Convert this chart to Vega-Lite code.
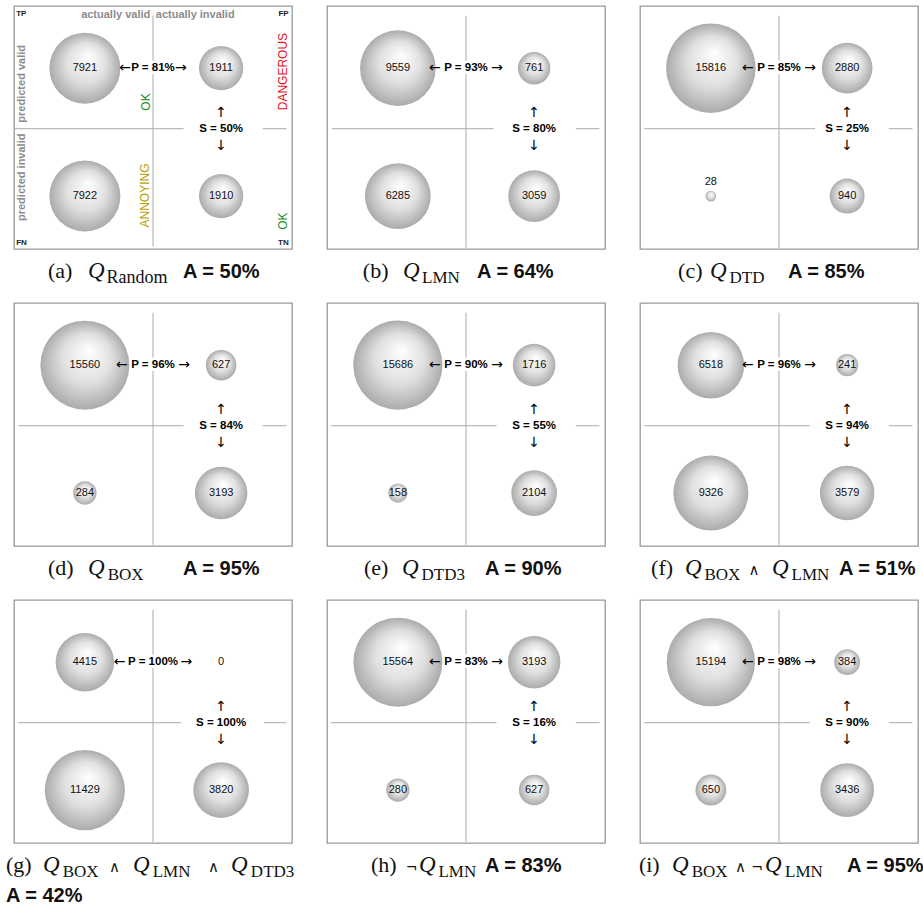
{
"$schema":"https://vega.github.io/schema/vega-lite/v6.json",
"background":"white",
"padding":{"left":5,"top":5,"right":0,"bottom":0},
"autosize":{"type":"pad"},
"columns":3,
"spacing":{"row":54,"column":35},
"bounds":"flush",
"datasets":{
"cells":[
{"panel":"a","actual":"valid","predicted":"valid","count":7921},{"panel":"a","actual":"invalid","predicted":"valid","count":1911},{"panel":"a","actual":"valid","predicted":"invalid","count":7922},{"panel":"a","actual":"invalid","predicted":"invalid","count":1910},
{"panel":"b","actual":"valid","predicted":"valid","count":9559},{"panel":"b","actual":"invalid","predicted":"valid","count":761},{"panel":"b","actual":"valid","predicted":"invalid","count":6285},{"panel":"b","actual":"invalid","predicted":"invalid","count":3059},
{"panel":"c","actual":"valid","predicted":"valid","count":15816},{"panel":"c","actual":"invalid","predicted":"valid","count":2880},{"panel":"c","actual":"valid","predicted":"invalid","count":28},{"panel":"c","actual":"invalid","predicted":"invalid","count":940},
{"panel":"d","actual":"valid","predicted":"valid","count":15560},{"panel":"d","actual":"invalid","predicted":"valid","count":627},{"panel":"d","actual":"valid","predicted":"invalid","count":284},{"panel":"d","actual":"invalid","predicted":"invalid","count":3193},
{"panel":"e","actual":"valid","predicted":"valid","count":15686},{"panel":"e","actual":"invalid","predicted":"valid","count":1716},{"panel":"e","actual":"valid","predicted":"invalid","count":158},{"panel":"e","actual":"invalid","predicted":"invalid","count":2104},
{"panel":"f","actual":"valid","predicted":"valid","count":6518},{"panel":"f","actual":"invalid","predicted":"valid","count":241},{"panel":"f","actual":"valid","predicted":"invalid","count":9326},{"panel":"f","actual":"invalid","predicted":"invalid","count":3579},
{"panel":"g","actual":"valid","predicted":"valid","count":4415},{"panel":"g","actual":"invalid","predicted":"valid","count":0},{"panel":"g","actual":"valid","predicted":"invalid","count":11429},{"panel":"g","actual":"invalid","predicted":"invalid","count":3820},
{"panel":"h","actual":"valid","predicted":"valid","count":15564},{"panel":"h","actual":"invalid","predicted":"valid","count":3193},{"panel":"h","actual":"valid","predicted":"invalid","count":280},{"panel":"h","actual":"invalid","predicted":"invalid","count":627},
{"panel":"i","actual":"valid","predicted":"valid","count":15194},{"panel":"i","actual":"invalid","predicted":"valid","count":384},{"panel":"i","actual":"valid","predicted":"invalid","count":650},{"panel":"i","actual":"invalid","predicted":"invalid","count":3436}
],
"panels":[
{"panel":"a","tag":"(a)","P":"P = 81%","S":"S = 50%","A":"A = 50%"},
{"panel":"b","tag":"(b)","P":"P = 93%","S":"S = 80%","A":"A = 64%"},
{"panel":"c","tag":"(c)","P":"P = 85%","S":"S = 25%","A":"A = 85%"},
{"panel":"d","tag":"(d)","P":"P = 96%","S":"S = 84%","A":"A = 95%"},
{"panel":"e","tag":"(e)","P":"P = 90%","S":"S = 55%","A":"A = 90%"},
{"panel":"f","tag":"(f)","P":"P = 96%","S":"S = 94%","A":"A = 51%"},
{"panel":"g","tag":"(g)","P":"P = 100%","S":"S = 100%","A":"A = 42%"},
{"panel":"h","tag":"(h)","P":"P = 83%","S":"S = 16%","A":"A = 83%"},
{"panel":"i","tag":"(i)","P":"P = 98%","S":"S = 90%","A":"A = 95%"}
]
},
"concat":[
{"width":278,"height":243,"resolve":{"scale":{"x":"independent","y":"independent"}},"layer":[
{"data":{"name":"cells"},"transform":[{"filter":"datum.panel==='a'"}],
"encoding":{"x":{"field":"actual","type":"nominal","scale":{"type":"point","domain":["valid","invalid"],"padding":0.52},"axis":null},"y":{"field":"predicted","type":"nominal","scale":{"type":"point","domain":["valid","invalid"],"padding":0.45,"align":0.54},"axis":null}},
"layer":[
{"mark":{"type":"circle","opacity":1,"fill":{"gradient":"radial","x1":0.55,"y1":0.33,"r1":0,"x2":0.5,"y2":0.5,"r2":0.5,"stops":[{"offset":0,"color":"#ffffff"},{"offset":0.55,"color":"#e0e0e0"},{"offset":1,"color":"#ababab"}]}},"encoding":{"size":{"field":"count","type":"quantitative","scale":{"type":"pow","exponent":0.6667,"domain":[0,15816],"range":[0,8000]},"legend":null}}},
{"mark":{"type":"text","style":"num","color":"#111111"},"encoding":{"text":{"field":"count","type":"nominal"}}}
]},
{"data":{"name":"panels"},"transform":[{"filter":"datum.panel==='a'"}],"layer":[
{"mark":{"type":"rule","color":"#aaaaaa","strokeWidth":1},"encoding":{"x":{"datum":0.5,"type":"quantitative","scale":{"domain":[0,1]}},"y":{"datum":0.04,"type":"quantitative","scale":{"domain":[0,1],"reverse":true}},"y2":{"datum":0.225}}},
{"mark":{"type":"rule","color":"#aaaaaa","strokeWidth":1},"encoding":{"x":{"datum":0.5,"type":"quantitative","scale":{"domain":[0,1]}},"y":{"datum":0.28,"type":"quantitative","scale":{"domain":[0,1],"reverse":true}},"y2":{"datum":0.99}}},
{"mark":{"type":"rule","color":"#aaaaaa","strokeWidth":1},"encoding":{"x":{"datum":0.0,"type":"quantitative","scale":{"domain":[0,1]}},"x2":{"datum":0.61},"y":{"datum":0.505,"type":"quantitative","scale":{"domain":[0,1],"reverse":true}}}},
{"mark":{"type":"rule","color":"#aaaaaa","strokeWidth":1},"encoding":{"x":{"datum":0.895,"type":"quantitative","scale":{"domain":[0,1]}},"x2":{"datum":0.98},"y":{"datum":0.505,"type":"quantitative","scale":{"domain":[0,1],"reverse":true}}}},
{"mark":{"type":"text","style":"pl","color":"#000000"},"encoding":{"text":{"field":"P"},"x":{"datum":0.5,"type":"quantitative","scale":{"domain":[0,1]}},"y":{"datum":0.255,"type":"quantitative","scale":{"domain":[0,1],"reverse":true}}}},
{"mark":{"type":"text","style":"arr","color":"#000000","text":"←"},"encoding":{"x":{"datum":0.4,"type":"quantitative","scale":{"domain":[0,1]}},"y":{"datum":0.255,"type":"quantitative","scale":{"domain":[0,1],"reverse":true}}}},
{"mark":{"type":"text","style":"arr","color":"#000000","text":"→"},"encoding":{"x":{"datum":0.6,"type":"quantitative","scale":{"domain":[0,1]}},"y":{"datum":0.255,"type":"quantitative","scale":{"domain":[0,1],"reverse":true}}}},
{"mark":{"type":"text","style":"pl","color":"#000000"},"encoding":{"text":{"field":"S"},"x":{"datum":0.745,"type":"quantitative","scale":{"domain":[0,1]}},"y":{"datum":0.505,"type":"quantitative","scale":{"domain":[0,1],"reverse":true}}}},
{"mark":{"type":"text","style":"arr","color":"#000000","text":"↑"},"encoding":{"x":{"datum":0.745,"type":"quantitative","scale":{"domain":[0,1]}},"y":{"datum":0.44,"type":"quantitative","scale":{"domain":[0,1],"reverse":true}}}},
{"mark":{"type":"text","style":"arr","color":"#000000","text":"↓"},"encoding":{"x":{"datum":0.745,"type":"quantitative","scale":{"domain":[0,1]}},"y":{"datum":0.575,"type":"quantitative","scale":{"domain":[0,1],"reverse":true}}}},
{"mark":{"type":"text","style":"corner","color":"#222222","text":"TP","align":"left"},"encoding":{"x":{"datum":0.008,"type":"quantitative","scale":{"domain":[0,1]}},"y":{"datum":0.033,"type":"quantitative","scale":{"domain":[0,1],"reverse":true}}}},
{"mark":{"type":"text","style":"corner","color":"#222222","text":"FP","align":"right"},"encoding":{"x":{"datum":0.988,"type":"quantitative","scale":{"domain":[0,1]}},"y":{"datum":0.033,"type":"quantitative","scale":{"domain":[0,1],"reverse":true}}}},
{"mark":{"type":"text","style":"corner","color":"#222222","text":"FN","align":"left"},"encoding":{"x":{"datum":0.008,"type":"quantitative","scale":{"domain":[0,1]}},"y":{"datum":0.975,"type":"quantitative","scale":{"domain":[0,1],"reverse":true}}}},
{"mark":{"type":"text","style":"corner","color":"#222222","text":"TN","align":"right"},"encoding":{"x":{"datum":0.988,"type":"quantitative","scale":{"domain":[0,1]}},"y":{"datum":0.975,"type":"quantitative","scale":{"domain":[0,1],"reverse":true}}}},
{"mark":{"type":"text","style":"gl","color":"#8c8c8c","text":"actually valid","align":"right"},"encoding":{"x":{"datum":0.49,"type":"quantitative","scale":{"domain":[0,1]}},"y":{"datum":0.035,"type":"quantitative","scale":{"domain":[0,1],"reverse":true}}}},
{"mark":{"type":"text","style":"gl","color":"#8c8c8c","text":"actually invalid","align":"left"},"encoding":{"x":{"datum":0.51,"type":"quantitative","scale":{"domain":[0,1]}},"y":{"datum":0.035,"type":"quantitative","scale":{"domain":[0,1],"reverse":true}}}},
{"mark":{"type":"text","style":"gl","color":"#8c8c8c","text":"predicted valid","align":"left","angle":270},"encoding":{"x":{"datum":0.03,"type":"quantitative","scale":{"domain":[0,1]}},"y":{"datum":0.48,"type":"quantitative","scale":{"domain":[0,1],"reverse":true}}}},
{"mark":{"type":"text","style":"gl","color":"#8c8c8c","text":"predicted invalid","align":"right","angle":270},"encoding":{"x":{"datum":0.03,"type":"quantitative","scale":{"domain":[0,1]}},"y":{"datum":0.525,"type":"quantitative","scale":{"domain":[0,1],"reverse":true}}}},
{"mark":{"type":"text","style":"warn","text":"OK","color":"#1e8b1e"},"encoding":{"x":{"datum":0.475,"type":"quantitative","scale":{"domain":[0,1]}},"y":{"datum":0.395,"type":"quantitative","scale":{"domain":[0,1],"reverse":true}}}},
{"mark":{"type":"text","style":"warn","text":"DANGEROUS","color":"#e8101a"},"encoding":{"x":{"datum":0.968,"type":"quantitative","scale":{"domain":[0,1]}},"y":{"datum":0.27,"type":"quantitative","scale":{"domain":[0,1],"reverse":true}}}},
{"mark":{"type":"text","style":"warn","text":"ANNOYING","color":"#b8a000"},"encoding":{"x":{"datum":0.47,"type":"quantitative","scale":{"domain":[0,1]}},"y":{"datum":0.78,"type":"quantitative","scale":{"domain":[0,1],"reverse":true}}}},
{"mark":{"type":"text","style":"warn","text":"OK","color":"#1e8b1e"},"encoding":{"x":{"datum":0.968,"type":"quantitative","scale":{"domain":[0,1]}},"y":{"datum":0.885,"type":"quantitative","scale":{"domain":[0,1],"reverse":true}}}},
{"mark":{"type":"text","style":"tag","color":"#111111"},"encoding":{"text":{"field":"tag"},"x":{"datum":0.122,"type":"quantitative","scale":{"domain":[0,1]}},"y":{"datum":1.12,"type":"quantitative","scale":{"domain":[0,1],"reverse":true}}}},
{"mark":{"type":"text","style":"qi","color":"#111111","text":"Q"},"encoding":{"x":{"datum":0.266,"type":"quantitative","scale":{"domain":[0,1]}},"y":{"datum":1.12,"type":"quantitative","scale":{"domain":[0,1],"reverse":true}}}},
{"mark":{"type":"text","style":"sub","color":"#111111","text":"Random","fontSize":18},"encoding":{"x":{"datum":0.333,"type":"quantitative","scale":{"domain":[0,1]}},"y":{"datum":1.14,"type":"quantitative","scale":{"domain":[0,1],"reverse":true}}}},
{"mark":{"type":"text","style":"acc","color":"#111111"},"encoding":{"text":{"field":"A"},"x":{"datum":0.608,"type":"quantitative","scale":{"domain":[0,1]}},"y":{"datum":1.12,"type":"quantitative","scale":{"domain":[0,1],"reverse":true}}}}
]}
]},
{"width":278,"height":243,"resolve":{"scale":{"x":"independent","y":"independent"}},"layer":[
{"data":{"name":"cells"},"transform":[{"filter":"datum.panel==='b'"}],
"encoding":{"x":{"field":"actual","type":"nominal","scale":{"type":"point","domain":["valid","invalid"],"padding":0.52},"axis":null},"y":{"field":"predicted","type":"nominal","scale":{"type":"point","domain":["valid","invalid"],"padding":0.45,"align":0.54},"axis":null}},
"layer":[
{"mark":{"type":"circle","opacity":1,"fill":{"gradient":"radial","x1":0.55,"y1":0.33,"r1":0,"x2":0.5,"y2":0.5,"r2":0.5,"stops":[{"offset":0,"color":"#ffffff"},{"offset":0.55,"color":"#e0e0e0"},{"offset":1,"color":"#ababab"}]}},"encoding":{"size":{"field":"count","type":"quantitative","scale":{"type":"pow","exponent":0.6667,"domain":[0,15816],"range":[0,8000]},"legend":null}}},
{"mark":{"type":"text","style":"num","color":"#111111"},"encoding":{"text":{"field":"count","type":"nominal"}}}
]},
{"data":{"name":"panels"},"transform":[{"filter":"datum.panel==='b'"}],"layer":[
{"mark":{"type":"rule","color":"#aaaaaa","strokeWidth":1},"encoding":{"x":{"datum":0.5,"type":"quantitative","scale":{"domain":[0,1]}},"y":{"datum":0.04,"type":"quantitative","scale":{"domain":[0,1],"reverse":true}},"y2":{"datum":0.225}}},
{"mark":{"type":"rule","color":"#aaaaaa","strokeWidth":1},"encoding":{"x":{"datum":0.5,"type":"quantitative","scale":{"domain":[0,1]}},"y":{"datum":0.28,"type":"quantitative","scale":{"domain":[0,1],"reverse":true}},"y2":{"datum":0.995}}},
{"mark":{"type":"rule","color":"#aaaaaa","strokeWidth":1},"encoding":{"x":{"datum":0.018,"type":"quantitative","scale":{"domain":[0,1]}},"x2":{"datum":0.6},"y":{"datum":0.505,"type":"quantitative","scale":{"domain":[0,1],"reverse":true}}}},
{"mark":{"type":"rule","color":"#aaaaaa","strokeWidth":1},"encoding":{"x":{"datum":0.895,"type":"quantitative","scale":{"domain":[0,1]}},"x2":{"datum":0.98},"y":{"datum":0.505,"type":"quantitative","scale":{"domain":[0,1],"reverse":true}}}},
{"mark":{"type":"text","style":"pl","color":"#000000"},"encoding":{"text":{"field":"P"},"x":{"datum":0.5,"type":"quantitative","scale":{"domain":[0,1]}},"y":{"datum":0.255,"type":"quantitative","scale":{"domain":[0,1],"reverse":true}}}},
{"mark":{"type":"text","style":"arr","color":"#000000","text":"←"},"encoding":{"x":{"datum":0.388,"type":"quantitative","scale":{"domain":[0,1]}},"y":{"datum":0.255,"type":"quantitative","scale":{"domain":[0,1],"reverse":true}}}},
{"mark":{"type":"text","style":"arr","color":"#000000","text":"→"},"encoding":{"x":{"datum":0.612,"type":"quantitative","scale":{"domain":[0,1]}},"y":{"datum":0.255,"type":"quantitative","scale":{"domain":[0,1],"reverse":true}}}},
{"mark":{"type":"text","style":"pl","color":"#000000"},"encoding":{"text":{"field":"S"},"x":{"datum":0.745,"type":"quantitative","scale":{"domain":[0,1]}},"y":{"datum":0.505,"type":"quantitative","scale":{"domain":[0,1],"reverse":true}}}},
{"mark":{"type":"text","style":"arr","color":"#000000","text":"↑"},"encoding":{"x":{"datum":0.745,"type":"quantitative","scale":{"domain":[0,1]}},"y":{"datum":0.44,"type":"quantitative","scale":{"domain":[0,1],"reverse":true}}}},
{"mark":{"type":"text","style":"arr","color":"#000000","text":"↓"},"encoding":{"x":{"datum":0.745,"type":"quantitative","scale":{"domain":[0,1]}},"y":{"datum":0.575,"type":"quantitative","scale":{"domain":[0,1],"reverse":true}}}},
{"mark":{"type":"text","style":"tag","color":"#111111"},"encoding":{"text":{"field":"tag"},"x":{"datum":0.129,"type":"quantitative","scale":{"domain":[0,1]}},"y":{"datum":1.12,"type":"quantitative","scale":{"domain":[0,1],"reverse":true}}}},
{"mark":{"type":"text","style":"qi","color":"#111111","text":"Q"},"encoding":{"x":{"datum":0.273,"type":"quantitative","scale":{"domain":[0,1]}},"y":{"datum":1.12,"type":"quantitative","scale":{"domain":[0,1],"reverse":true}}}},
{"mark":{"type":"text","style":"sub","color":"#111111","text":"LMN"},"encoding":{"x":{"datum":0.342,"type":"quantitative","scale":{"domain":[0,1]}},"y":{"datum":1.14,"type":"quantitative","scale":{"domain":[0,1],"reverse":true}}}},
{"mark":{"type":"text","style":"acc","color":"#111111"},"encoding":{"text":{"field":"A"},"x":{"datum":0.540,"type":"quantitative","scale":{"domain":[0,1]}},"y":{"datum":1.12,"type":"quantitative","scale":{"domain":[0,1],"reverse":true}}}}
]}
]},
{"width":278,"height":243,"resolve":{"scale":{"x":"independent","y":"independent"}},"layer":[
{"data":{"name":"cells"},"transform":[{"filter":"datum.panel==='c'"}],
"encoding":{"x":{"field":"actual","type":"nominal","scale":{"type":"point","domain":["valid","invalid"],"padding":0.52},"axis":null},"y":{"field":"predicted","type":"nominal","scale":{"type":"point","domain":["valid","invalid"],"padding":0.45,"align":0.54},"axis":null}},
"layer":[
{"mark":{"type":"circle","opacity":1,"fill":{"gradient":"radial","x1":0.55,"y1":0.33,"r1":0,"x2":0.5,"y2":0.5,"r2":0.5,"stops":[{"offset":0,"color":"#ffffff"},{"offset":0.55,"color":"#e0e0e0"},{"offset":1,"color":"#ababab"}]}},"encoding":{"size":{"field":"count","type":"quantitative","scale":{"type":"pow","exponent":0.6667,"domain":[0,15816],"range":[0,8000]},"legend":null}}},
{"transform":[{"filter":"datum.count===0||datum.count>=100"}],"mark":{"type":"text","style":"num","color":"#111111"},"encoding":{"text":{"field":"count","type":"nominal"}}},
{"transform":[{"filter":"datum.count>0&&datum.count<100"}],"mark":{"type":"text","style":"num","color":"#111111","dy":-14},"encoding":{"text":{"field":"count","type":"nominal"}}}
]},
{"data":{"name":"panels"},"transform":[{"filter":"datum.panel==='c'"}],"layer":[
{"mark":{"type":"rule","color":"#aaaaaa","strokeWidth":1},"encoding":{"x":{"datum":0.5,"type":"quantitative","scale":{"domain":[0,1]}},"y":{"datum":0.04,"type":"quantitative","scale":{"domain":[0,1],"reverse":true}},"y2":{"datum":0.225}}},
{"mark":{"type":"rule","color":"#aaaaaa","strokeWidth":1},"encoding":{"x":{"datum":0.5,"type":"quantitative","scale":{"domain":[0,1]}},"y":{"datum":0.28,"type":"quantitative","scale":{"domain":[0,1],"reverse":true}},"y2":{"datum":0.995}}},
{"mark":{"type":"rule","color":"#aaaaaa","strokeWidth":1},"encoding":{"x":{"datum":0.015,"type":"quantitative","scale":{"domain":[0,1]}},"x2":{"datum":0.63},"y":{"datum":0.505,"type":"quantitative","scale":{"domain":[0,1],"reverse":true}}}},
{"mark":{"type":"rule","color":"#aaaaaa","strokeWidth":1},"encoding":{"x":{"datum":0.895,"type":"quantitative","scale":{"domain":[0,1]}},"x2":{"datum":0.98},"y":{"datum":0.505,"type":"quantitative","scale":{"domain":[0,1],"reverse":true}}}},
{"mark":{"type":"text","style":"pl","color":"#000000"},"encoding":{"text":{"field":"P"},"x":{"datum":0.5,"type":"quantitative","scale":{"domain":[0,1]}},"y":{"datum":0.255,"type":"quantitative","scale":{"domain":[0,1],"reverse":true}}}},
{"mark":{"type":"text","style":"arr","color":"#000000","text":"←"},"encoding":{"x":{"datum":0.388,"type":"quantitative","scale":{"domain":[0,1]}},"y":{"datum":0.255,"type":"quantitative","scale":{"domain":[0,1],"reverse":true}}}},
{"mark":{"type":"text","style":"arr","color":"#000000","text":"→"},"encoding":{"x":{"datum":0.612,"type":"quantitative","scale":{"domain":[0,1]}},"y":{"datum":0.255,"type":"quantitative","scale":{"domain":[0,1],"reverse":true}}}},
{"mark":{"type":"text","style":"pl","color":"#000000"},"encoding":{"text":{"field":"S"},"x":{"datum":0.745,"type":"quantitative","scale":{"domain":[0,1]}},"y":{"datum":0.505,"type":"quantitative","scale":{"domain":[0,1],"reverse":true}}}},
{"mark":{"type":"text","style":"arr","color":"#000000","text":"↑"},"encoding":{"x":{"datum":0.745,"type":"quantitative","scale":{"domain":[0,1]}},"y":{"datum":0.44,"type":"quantitative","scale":{"domain":[0,1],"reverse":true}}}},
{"mark":{"type":"text","style":"arr","color":"#000000","text":"↓"},"encoding":{"x":{"datum":0.745,"type":"quantitative","scale":{"domain":[0,1]}},"y":{"datum":0.575,"type":"quantitative","scale":{"domain":[0,1],"reverse":true}}}},
{"mark":{"type":"text","style":"tag","color":"#111111"},"encoding":{"text":{"field":"tag"},"x":{"datum":0.137,"type":"quantitative","scale":{"domain":[0,1]}},"y":{"datum":1.12,"type":"quantitative","scale":{"domain":[0,1],"reverse":true}}}},
{"mark":{"type":"text","style":"qi","color":"#111111","text":"Q"},"encoding":{"x":{"datum":0.252,"type":"quantitative","scale":{"domain":[0,1]}},"y":{"datum":1.12,"type":"quantitative","scale":{"domain":[0,1],"reverse":true}}}},
{"mark":{"type":"text","style":"sub","color":"#111111","text":"DTD"},"encoding":{"x":{"datum":0.322,"type":"quantitative","scale":{"domain":[0,1]}},"y":{"datum":1.14,"type":"quantitative","scale":{"domain":[0,1],"reverse":true}}}},
{"mark":{"type":"text","style":"acc","color":"#111111"},"encoding":{"text":{"field":"A"},"x":{"datum":0.532,"type":"quantitative","scale":{"domain":[0,1]}},"y":{"datum":1.12,"type":"quantitative","scale":{"domain":[0,1],"reverse":true}}}}
]}
]},
{"width":278,"height":243,"resolve":{"scale":{"x":"independent","y":"independent"}},"layer":[
{"data":{"name":"cells"},"transform":[{"filter":"datum.panel==='d'"}],
"encoding":{"x":{"field":"actual","type":"nominal","scale":{"type":"point","domain":["valid","invalid"],"padding":0.52},"axis":null},"y":{"field":"predicted","type":"nominal","scale":{"type":"point","domain":["valid","invalid"],"padding":0.45,"align":0.54},"axis":null}},
"layer":[
{"mark":{"type":"circle","opacity":1,"fill":{"gradient":"radial","x1":0.55,"y1":0.33,"r1":0,"x2":0.5,"y2":0.5,"r2":0.5,"stops":[{"offset":0,"color":"#ffffff"},{"offset":0.55,"color":"#e0e0e0"},{"offset":1,"color":"#ababab"}]}},"encoding":{"size":{"field":"count","type":"quantitative","scale":{"type":"pow","exponent":0.6667,"domain":[0,15816],"range":[0,8000]},"legend":null}}},
{"mark":{"type":"text","style":"num","color":"#111111"},"encoding":{"text":{"field":"count","type":"nominal"}}}
]},
{"data":{"name":"panels"},"transform":[{"filter":"datum.panel==='d'"}],"layer":[
{"mark":{"type":"rule","color":"#aaaaaa","strokeWidth":1},"encoding":{"x":{"datum":0.5,"type":"quantitative","scale":{"domain":[0,1]}},"y":{"datum":0.04,"type":"quantitative","scale":{"domain":[0,1],"reverse":true}},"y2":{"datum":0.225}}},
{"mark":{"type":"rule","color":"#aaaaaa","strokeWidth":1},"encoding":{"x":{"datum":0.5,"type":"quantitative","scale":{"domain":[0,1]}},"y":{"datum":0.28,"type":"quantitative","scale":{"domain":[0,1],"reverse":true}},"y2":{"datum":0.995}}},
{"mark":{"type":"rule","color":"#aaaaaa","strokeWidth":1},"encoding":{"x":{"datum":0.015,"type":"quantitative","scale":{"domain":[0,1]}},"x2":{"datum":0.61},"y":{"datum":0.505,"type":"quantitative","scale":{"domain":[0,1],"reverse":true}}}},
{"mark":{"type":"rule","color":"#aaaaaa","strokeWidth":1},"encoding":{"x":{"datum":0.895,"type":"quantitative","scale":{"domain":[0,1]}},"x2":{"datum":0.98},"y":{"datum":0.505,"type":"quantitative","scale":{"domain":[0,1],"reverse":true}}}},
{"mark":{"type":"text","style":"pl","color":"#000000"},"encoding":{"text":{"field":"P"},"x":{"datum":0.5,"type":"quantitative","scale":{"domain":[0,1]}},"y":{"datum":0.255,"type":"quantitative","scale":{"domain":[0,1],"reverse":true}}}},
{"mark":{"type":"text","style":"arr","color":"#000000","text":"←"},"encoding":{"x":{"datum":0.388,"type":"quantitative","scale":{"domain":[0,1]}},"y":{"datum":0.255,"type":"quantitative","scale":{"domain":[0,1],"reverse":true}}}},
{"mark":{"type":"text","style":"arr","color":"#000000","text":"→"},"encoding":{"x":{"datum":0.612,"type":"quantitative","scale":{"domain":[0,1]}},"y":{"datum":0.255,"type":"quantitative","scale":{"domain":[0,1],"reverse":true}}}},
{"mark":{"type":"text","style":"pl","color":"#000000"},"encoding":{"text":{"field":"S"},"x":{"datum":0.745,"type":"quantitative","scale":{"domain":[0,1]}},"y":{"datum":0.505,"type":"quantitative","scale":{"domain":[0,1],"reverse":true}}}},
{"mark":{"type":"text","style":"arr","color":"#000000","text":"↑"},"encoding":{"x":{"datum":0.745,"type":"quantitative","scale":{"domain":[0,1]}},"y":{"datum":0.44,"type":"quantitative","scale":{"domain":[0,1],"reverse":true}}}},
{"mark":{"type":"text","style":"arr","color":"#000000","text":"↓"},"encoding":{"x":{"datum":0.745,"type":"quantitative","scale":{"domain":[0,1]}},"y":{"datum":0.575,"type":"quantitative","scale":{"domain":[0,1],"reverse":true}}}},
{"mark":{"type":"text","style":"tag","color":"#111111"},"encoding":{"text":{"field":"tag"},"x":{"datum":0.122,"type":"quantitative","scale":{"domain":[0,1]}},"y":{"datum":1.12,"type":"quantitative","scale":{"domain":[0,1],"reverse":true}}}},
{"mark":{"type":"text","style":"qi","color":"#111111","text":"Q"},"encoding":{"x":{"datum":0.266,"type":"quantitative","scale":{"domain":[0,1]}},"y":{"datum":1.12,"type":"quantitative","scale":{"domain":[0,1],"reverse":true}}}},
{"mark":{"type":"text","style":"sub","color":"#111111","text":"BOX"},"encoding":{"x":{"datum":0.337,"type":"quantitative","scale":{"domain":[0,1]}},"y":{"datum":1.14,"type":"quantitative","scale":{"domain":[0,1],"reverse":true}}}},
{"mark":{"type":"text","style":"acc","color":"#111111"},"encoding":{"text":{"field":"A"},"x":{"datum":0.608,"type":"quantitative","scale":{"domain":[0,1]}},"y":{"datum":1.12,"type":"quantitative","scale":{"domain":[0,1],"reverse":true}}}}
]}
]},
{"width":278,"height":243,"resolve":{"scale":{"x":"independent","y":"independent"}},"layer":[
{"data":{"name":"cells"},"transform":[{"filter":"datum.panel==='e'"}],
"encoding":{"x":{"field":"actual","type":"nominal","scale":{"type":"point","domain":["valid","invalid"],"padding":0.52},"axis":null},"y":{"field":"predicted","type":"nominal","scale":{"type":"point","domain":["valid","invalid"],"padding":0.45,"align":0.54},"axis":null}},
"layer":[
{"mark":{"type":"circle","opacity":1,"fill":{"gradient":"radial","x1":0.55,"y1":0.33,"r1":0,"x2":0.5,"y2":0.5,"r2":0.5,"stops":[{"offset":0,"color":"#ffffff"},{"offset":0.55,"color":"#e0e0e0"},{"offset":1,"color":"#ababab"}]}},"encoding":{"size":{"field":"count","type":"quantitative","scale":{"type":"pow","exponent":0.6667,"domain":[0,15816],"range":[0,8000]},"legend":null}}},
{"mark":{"type":"text","style":"num","color":"#111111"},"encoding":{"text":{"field":"count","type":"nominal"}}}
]},
{"data":{"name":"panels"},"transform":[{"filter":"datum.panel==='e'"}],"layer":[
{"mark":{"type":"rule","color":"#aaaaaa","strokeWidth":1},"encoding":{"x":{"datum":0.5,"type":"quantitative","scale":{"domain":[0,1]}},"y":{"datum":0.04,"type":"quantitative","scale":{"domain":[0,1],"reverse":true}},"y2":{"datum":0.225}}},
{"mark":{"type":"rule","color":"#aaaaaa","strokeWidth":1},"encoding":{"x":{"datum":0.5,"type":"quantitative","scale":{"domain":[0,1]}},"y":{"datum":0.28,"type":"quantitative","scale":{"domain":[0,1],"reverse":true}},"y2":{"datum":0.995}}},
{"mark":{"type":"rule","color":"#aaaaaa","strokeWidth":1},"encoding":{"x":{"datum":0.015,"type":"quantitative","scale":{"domain":[0,1]}},"x2":{"datum":0.61},"y":{"datum":0.505,"type":"quantitative","scale":{"domain":[0,1],"reverse":true}}}},
{"mark":{"type":"rule","color":"#aaaaaa","strokeWidth":1},"encoding":{"x":{"datum":0.895,"type":"quantitative","scale":{"domain":[0,1]}},"x2":{"datum":0.98},"y":{"datum":0.505,"type":"quantitative","scale":{"domain":[0,1],"reverse":true}}}},
{"mark":{"type":"text","style":"pl","color":"#000000"},"encoding":{"text":{"field":"P"},"x":{"datum":0.5,"type":"quantitative","scale":{"domain":[0,1]}},"y":{"datum":0.255,"type":"quantitative","scale":{"domain":[0,1],"reverse":true}}}},
{"mark":{"type":"text","style":"arr","color":"#000000","text":"←"},"encoding":{"x":{"datum":0.388,"type":"quantitative","scale":{"domain":[0,1]}},"y":{"datum":0.255,"type":"quantitative","scale":{"domain":[0,1],"reverse":true}}}},
{"mark":{"type":"text","style":"arr","color":"#000000","text":"→"},"encoding":{"x":{"datum":0.612,"type":"quantitative","scale":{"domain":[0,1]}},"y":{"datum":0.255,"type":"quantitative","scale":{"domain":[0,1],"reverse":true}}}},
{"mark":{"type":"text","style":"pl","color":"#000000"},"encoding":{"text":{"field":"S"},"x":{"datum":0.745,"type":"quantitative","scale":{"domain":[0,1]}},"y":{"datum":0.505,"type":"quantitative","scale":{"domain":[0,1],"reverse":true}}}},
{"mark":{"type":"text","style":"arr","color":"#000000","text":"↑"},"encoding":{"x":{"datum":0.745,"type":"quantitative","scale":{"domain":[0,1]}},"y":{"datum":0.44,"type":"quantitative","scale":{"domain":[0,1],"reverse":true}}}},
{"mark":{"type":"text","style":"arr","color":"#000000","text":"↓"},"encoding":{"x":{"datum":0.745,"type":"quantitative","scale":{"domain":[0,1]}},"y":{"datum":0.575,"type":"quantitative","scale":{"domain":[0,1],"reverse":true}}}},
{"mark":{"type":"text","style":"tag","color":"#111111"},"encoding":{"text":{"field":"tag"},"x":{"datum":0.133,"type":"quantitative","scale":{"domain":[0,1]}},"y":{"datum":1.12,"type":"quantitative","scale":{"domain":[0,1],"reverse":true}}}},
{"mark":{"type":"text","style":"qi","color":"#111111","text":"Q"},"encoding":{"x":{"datum":0.270,"type":"quantitative","scale":{"domain":[0,1]}},"y":{"datum":1.12,"type":"quantitative","scale":{"domain":[0,1],"reverse":true}}}},
{"mark":{"type":"text","style":"sub","color":"#111111","text":"DTD3"},"encoding":{"x":{"datum":0.340,"type":"quantitative","scale":{"domain":[0,1]}},"y":{"datum":1.14,"type":"quantitative","scale":{"domain":[0,1],"reverse":true}}}},
{"mark":{"type":"text","style":"acc","color":"#111111"},"encoding":{"text":{"field":"A"},"x":{"datum":0.568,"type":"quantitative","scale":{"domain":[0,1]}},"y":{"datum":1.12,"type":"quantitative","scale":{"domain":[0,1],"reverse":true}}}}
]}
]},
{"width":278,"height":243,"resolve":{"scale":{"x":"independent","y":"independent"}},"layer":[
{"data":{"name":"cells"},"transform":[{"filter":"datum.panel==='f'"}],
"encoding":{"x":{"field":"actual","type":"nominal","scale":{"type":"point","domain":["valid","invalid"],"padding":0.52},"axis":null},"y":{"field":"predicted","type":"nominal","scale":{"type":"point","domain":["valid","invalid"],"padding":0.45,"align":0.54},"axis":null}},
"layer":[
{"mark":{"type":"circle","opacity":1,"fill":{"gradient":"radial","x1":0.55,"y1":0.33,"r1":0,"x2":0.5,"y2":0.5,"r2":0.5,"stops":[{"offset":0,"color":"#ffffff"},{"offset":0.55,"color":"#e0e0e0"},{"offset":1,"color":"#ababab"}]}},"encoding":{"size":{"field":"count","type":"quantitative","scale":{"type":"pow","exponent":0.6667,"domain":[0,15816],"range":[0,8000]},"legend":null}}},
{"mark":{"type":"text","style":"num","color":"#111111"},"encoding":{"text":{"field":"count","type":"nominal"}}}
]},
{"data":{"name":"panels"},"transform":[{"filter":"datum.panel==='f'"}],"layer":[
{"mark":{"type":"rule","color":"#aaaaaa","strokeWidth":1},"encoding":{"x":{"datum":0.5,"type":"quantitative","scale":{"domain":[0,1]}},"y":{"datum":0.04,"type":"quantitative","scale":{"domain":[0,1],"reverse":true}},"y2":{"datum":0.225}}},
{"mark":{"type":"rule","color":"#aaaaaa","strokeWidth":1},"encoding":{"x":{"datum":0.5,"type":"quantitative","scale":{"domain":[0,1]}},"y":{"datum":0.28,"type":"quantitative","scale":{"domain":[0,1],"reverse":true}},"y2":{"datum":0.995}}},
{"mark":{"type":"rule","color":"#aaaaaa","strokeWidth":1},"encoding":{"x":{"datum":0.015,"type":"quantitative","scale":{"domain":[0,1]}},"x2":{"datum":0.61},"y":{"datum":0.505,"type":"quantitative","scale":{"domain":[0,1],"reverse":true}}}},
{"mark":{"type":"rule","color":"#aaaaaa","strokeWidth":1},"encoding":{"x":{"datum":0.895,"type":"quantitative","scale":{"domain":[0,1]}},"x2":{"datum":0.98},"y":{"datum":0.505,"type":"quantitative","scale":{"domain":[0,1],"reverse":true}}}},
{"mark":{"type":"text","style":"pl","color":"#000000"},"encoding":{"text":{"field":"P"},"x":{"datum":0.5,"type":"quantitative","scale":{"domain":[0,1]}},"y":{"datum":0.255,"type":"quantitative","scale":{"domain":[0,1],"reverse":true}}}},
{"mark":{"type":"text","style":"arr","color":"#000000","text":"←"},"encoding":{"x":{"datum":0.388,"type":"quantitative","scale":{"domain":[0,1]}},"y":{"datum":0.255,"type":"quantitative","scale":{"domain":[0,1],"reverse":true}}}},
{"mark":{"type":"text","style":"arr","color":"#000000","text":"→"},"encoding":{"x":{"datum":0.612,"type":"quantitative","scale":{"domain":[0,1]}},"y":{"datum":0.255,"type":"quantitative","scale":{"domain":[0,1],"reverse":true}}}},
{"mark":{"type":"text","style":"pl","color":"#000000"},"encoding":{"text":{"field":"S"},"x":{"datum":0.745,"type":"quantitative","scale":{"domain":[0,1]}},"y":{"datum":0.505,"type":"quantitative","scale":{"domain":[0,1],"reverse":true}}}},
{"mark":{"type":"text","style":"arr","color":"#000000","text":"↑"},"encoding":{"x":{"datum":0.745,"type":"quantitative","scale":{"domain":[0,1]}},"y":{"datum":0.44,"type":"quantitative","scale":{"domain":[0,1],"reverse":true}}}},
{"mark":{"type":"text","style":"arr","color":"#000000","text":"↓"},"encoding":{"x":{"datum":0.745,"type":"quantitative","scale":{"domain":[0,1]}},"y":{"datum":0.575,"type":"quantitative","scale":{"domain":[0,1],"reverse":true}}}},
{"mark":{"type":"text","style":"tag","color":"#111111"},"encoding":{"text":{"field":"tag"},"x":{"datum":0.040,"type":"quantitative","scale":{"domain":[0,1]}},"y":{"datum":1.12,"type":"quantitative","scale":{"domain":[0,1],"reverse":true}}}},
{"mark":{"type":"text","style":"qi","color":"#111111","text":"Q"},"encoding":{"x":{"datum":0.162,"type":"quantitative","scale":{"domain":[0,1]}},"y":{"datum":1.12,"type":"quantitative","scale":{"domain":[0,1],"reverse":true}}}},
{"mark":{"type":"text","style":"sub","color":"#111111","text":"BOX"},"encoding":{"x":{"datum":0.232,"type":"quantitative","scale":{"domain":[0,1]}},"y":{"datum":1.14,"type":"quantitative","scale":{"domain":[0,1],"reverse":true}}}},
{"mark":{"type":"text","style":"op","color":"#111111","text":"∧"},"encoding":{"x":{"datum":0.39,"type":"quantitative","scale":{"domain":[0,1]}},"y":{"datum":1.12,"type":"quantitative","scale":{"domain":[0,1],"reverse":true}}}},
{"mark":{"type":"text","style":"qi","color":"#111111","text":"Q"},"encoding":{"x":{"datum":0.475,"type":"quantitative","scale":{"domain":[0,1]}},"y":{"datum":1.12,"type":"quantitative","scale":{"domain":[0,1],"reverse":true}}}},
{"mark":{"type":"text","style":"sub","color":"#111111","text":"LMN"},"encoding":{"x":{"datum":0.545,"type":"quantitative","scale":{"domain":[0,1]}},"y":{"datum":1.14,"type":"quantitative","scale":{"domain":[0,1],"reverse":true}}}},
{"mark":{"type":"text","style":"acc","color":"#111111"},"encoding":{"text":{"field":"A"},"x":{"datum":0.716,"type":"quantitative","scale":{"domain":[0,1]}},"y":{"datum":1.12,"type":"quantitative","scale":{"domain":[0,1],"reverse":true}}}}
]}
]},
{"width":278,"height":243,"resolve":{"scale":{"x":"independent","y":"independent"}},"layer":[
{"data":{"name":"cells"},"transform":[{"filter":"datum.panel==='g'"}],
"encoding":{"x":{"field":"actual","type":"nominal","scale":{"type":"point","domain":["valid","invalid"],"padding":0.52},"axis":null},"y":{"field":"predicted","type":"nominal","scale":{"type":"point","domain":["valid","invalid"],"padding":0.45,"align":0.54},"axis":null}},
"layer":[
{"mark":{"type":"circle","opacity":1,"fill":{"gradient":"radial","x1":0.55,"y1":0.33,"r1":0,"x2":0.5,"y2":0.5,"r2":0.5,"stops":[{"offset":0,"color":"#ffffff"},{"offset":0.55,"color":"#e0e0e0"},{"offset":1,"color":"#ababab"}]}},"encoding":{"size":{"field":"count","type":"quantitative","scale":{"type":"pow","exponent":0.6667,"domain":[0,15816],"range":[0,8000]},"legend":null}}},
{"mark":{"type":"text","style":"num","color":"#111111"},"encoding":{"text":{"field":"count","type":"nominal"}}}
]},
{"data":{"name":"panels"},"transform":[{"filter":"datum.panel==='g'"}],"layer":[
{"mark":{"type":"rule","color":"#aaaaaa","strokeWidth":1},"encoding":{"x":{"datum":0.5,"type":"quantitative","scale":{"domain":[0,1]}},"y":{"datum":0.04,"type":"quantitative","scale":{"domain":[0,1],"reverse":true}},"y2":{"datum":0.225}}},
{"mark":{"type":"rule","color":"#aaaaaa","strokeWidth":1},"encoding":{"x":{"datum":0.5,"type":"quantitative","scale":{"domain":[0,1]}},"y":{"datum":0.28,"type":"quantitative","scale":{"domain":[0,1],"reverse":true}},"y2":{"datum":0.995}}},
{"mark":{"type":"rule","color":"#aaaaaa","strokeWidth":1},"encoding":{"x":{"datum":0.015,"type":"quantitative","scale":{"domain":[0,1]}},"x2":{"datum":0.6},"y":{"datum":0.505,"type":"quantitative","scale":{"domain":[0,1],"reverse":true}}}},
{"mark":{"type":"rule","color":"#aaaaaa","strokeWidth":1},"encoding":{"x":{"datum":0.9,"type":"quantitative","scale":{"domain":[0,1]}},"x2":{"datum":0.98},"y":{"datum":0.505,"type":"quantitative","scale":{"domain":[0,1],"reverse":true}}}},
{"mark":{"type":"text","style":"pl","color":"#000000"},"encoding":{"text":{"field":"P"},"x":{"datum":0.5,"type":"quantitative","scale":{"domain":[0,1]}},"y":{"datum":0.255,"type":"quantitative","scale":{"domain":[0,1],"reverse":true}}}},
{"mark":{"type":"text","style":"arr","color":"#000000","text":"←"},"encoding":{"x":{"datum":0.38,"type":"quantitative","scale":{"domain":[0,1]}},"y":{"datum":0.255,"type":"quantitative","scale":{"domain":[0,1],"reverse":true}}}},
{"mark":{"type":"text","style":"arr","color":"#000000","text":"→"},"encoding":{"x":{"datum":0.62,"type":"quantitative","scale":{"domain":[0,1]}},"y":{"datum":0.255,"type":"quantitative","scale":{"domain":[0,1],"reverse":true}}}},
{"mark":{"type":"text","style":"pl","color":"#000000"},"encoding":{"text":{"field":"S"},"x":{"datum":0.745,"type":"quantitative","scale":{"domain":[0,1]}},"y":{"datum":0.505,"type":"quantitative","scale":{"domain":[0,1],"reverse":true}}}},
{"mark":{"type":"text","style":"arr","color":"#000000","text":"↑"},"encoding":{"x":{"datum":0.745,"type":"quantitative","scale":{"domain":[0,1]}},"y":{"datum":0.44,"type":"quantitative","scale":{"domain":[0,1],"reverse":true}}}},
{"mark":{"type":"text","style":"arr","color":"#000000","text":"↓"},"encoding":{"x":{"datum":0.745,"type":"quantitative","scale":{"domain":[0,1]}},"y":{"datum":0.575,"type":"quantitative","scale":{"domain":[0,1],"reverse":true}}}},
{"mark":{"type":"text","style":"tag","color":"#111111"},"encoding":{"text":{"field":"tag"},"x":{"datum":-0.029,"type":"quantitative","scale":{"domain":[0,1]}},"y":{"datum":1.12,"type":"quantitative","scale":{"domain":[0,1],"reverse":true}}}},
{"mark":{"type":"text","style":"qi","color":"#111111","text":"Q"},"encoding":{"x":{"datum":0.104,"type":"quantitative","scale":{"domain":[0,1]}},"y":{"datum":1.12,"type":"quantitative","scale":{"domain":[0,1],"reverse":true}}}},
{"mark":{"type":"text","style":"sub","color":"#111111","text":"BOX"},"encoding":{"x":{"datum":0.175,"type":"quantitative","scale":{"domain":[0,1]}},"y":{"datum":1.14,"type":"quantitative","scale":{"domain":[0,1],"reverse":true}}}},
{"mark":{"type":"text","style":"op","color":"#111111","text":"∧"},"encoding":{"x":{"datum":0.342,"type":"quantitative","scale":{"domain":[0,1]}},"y":{"datum":1.12,"type":"quantitative","scale":{"domain":[0,1],"reverse":true}}}},
{"mark":{"type":"text","style":"qi","color":"#111111","text":"Q"},"encoding":{"x":{"datum":0.428,"type":"quantitative","scale":{"domain":[0,1]}},"y":{"datum":1.12,"type":"quantitative","scale":{"domain":[0,1],"reverse":true}}}},
{"mark":{"type":"text","style":"sub","color":"#111111","text":"LMN"},"encoding":{"x":{"datum":0.499,"type":"quantitative","scale":{"domain":[0,1]}},"y":{"datum":1.14,"type":"quantitative","scale":{"domain":[0,1],"reverse":true}}}},
{"mark":{"type":"text","style":"op","color":"#111111","text":"∧"},"encoding":{"x":{"datum":0.698,"type":"quantitative","scale":{"domain":[0,1]}},"y":{"datum":1.12,"type":"quantitative","scale":{"domain":[0,1],"reverse":true}}}},
{"mark":{"type":"text","style":"qi","color":"#111111","text":"Q"},"encoding":{"x":{"datum":0.781,"type":"quantitative","scale":{"domain":[0,1]}},"y":{"datum":1.12,"type":"quantitative","scale":{"domain":[0,1],"reverse":true}}}},
{"mark":{"type":"text","style":"sub","color":"#111111","text":"DTD3"},"encoding":{"x":{"datum":0.852,"type":"quantitative","scale":{"domain":[0,1]}},"y":{"datum":1.14,"type":"quantitative","scale":{"domain":[0,1],"reverse":true}}}},
{"mark":{"type":"text","style":"acc","color":"#111111"},"encoding":{"text":{"field":"A"},"x":{"datum":-0.029,"type":"quantitative","scale":{"domain":[0,1]}},"y":{"datum":1.243,"type":"quantitative","scale":{"domain":[0,1],"reverse":true}}}}
]}
]},
{"width":278,"height":243,"resolve":{"scale":{"x":"independent","y":"independent"}},"layer":[
{"data":{"name":"cells"},"transform":[{"filter":"datum.panel==='h'"}],
"encoding":{"x":{"field":"actual","type":"nominal","scale":{"type":"point","domain":["valid","invalid"],"padding":0.52},"axis":null},"y":{"field":"predicted","type":"nominal","scale":{"type":"point","domain":["valid","invalid"],"padding":0.45,"align":0.54},"axis":null}},
"layer":[
{"mark":{"type":"circle","opacity":1,"fill":{"gradient":"radial","x1":0.55,"y1":0.33,"r1":0,"x2":0.5,"y2":0.5,"r2":0.5,"stops":[{"offset":0,"color":"#ffffff"},{"offset":0.55,"color":"#e0e0e0"},{"offset":1,"color":"#ababab"}]}},"encoding":{"size":{"field":"count","type":"quantitative","scale":{"type":"pow","exponent":0.6667,"domain":[0,15816],"range":[0,8000]},"legend":null}}},
{"mark":{"type":"text","style":"num","color":"#111111"},"encoding":{"text":{"field":"count","type":"nominal"}}}
]},
{"data":{"name":"panels"},"transform":[{"filter":"datum.panel==='h'"}],"layer":[
{"mark":{"type":"rule","color":"#aaaaaa","strokeWidth":1},"encoding":{"x":{"datum":0.5,"type":"quantitative","scale":{"domain":[0,1]}},"y":{"datum":0.04,"type":"quantitative","scale":{"domain":[0,1],"reverse":true}},"y2":{"datum":0.225}}},
{"mark":{"type":"rule","color":"#aaaaaa","strokeWidth":1},"encoding":{"x":{"datum":0.5,"type":"quantitative","scale":{"domain":[0,1]}},"y":{"datum":0.28,"type":"quantitative","scale":{"domain":[0,1],"reverse":true}},"y2":{"datum":0.995}}},
{"mark":{"type":"rule","color":"#aaaaaa","strokeWidth":1},"encoding":{"x":{"datum":0.015,"type":"quantitative","scale":{"domain":[0,1]}},"x2":{"datum":0.61},"y":{"datum":0.505,"type":"quantitative","scale":{"domain":[0,1],"reverse":true}}}},
{"mark":{"type":"rule","color":"#aaaaaa","strokeWidth":1},"encoding":{"x":{"datum":0.895,"type":"quantitative","scale":{"domain":[0,1]}},"x2":{"datum":0.98},"y":{"datum":0.505,"type":"quantitative","scale":{"domain":[0,1],"reverse":true}}}},
{"mark":{"type":"text","style":"pl","color":"#000000"},"encoding":{"text":{"field":"P"},"x":{"datum":0.5,"type":"quantitative","scale":{"domain":[0,1]}},"y":{"datum":0.255,"type":"quantitative","scale":{"domain":[0,1],"reverse":true}}}},
{"mark":{"type":"text","style":"arr","color":"#000000","text":"←"},"encoding":{"x":{"datum":0.388,"type":"quantitative","scale":{"domain":[0,1]}},"y":{"datum":0.255,"type":"quantitative","scale":{"domain":[0,1],"reverse":true}}}},
{"mark":{"type":"text","style":"arr","color":"#000000","text":"→"},"encoding":{"x":{"datum":0.612,"type":"quantitative","scale":{"domain":[0,1]}},"y":{"datum":0.255,"type":"quantitative","scale":{"domain":[0,1],"reverse":true}}}},
{"mark":{"type":"text","style":"pl","color":"#000000"},"encoding":{"text":{"field":"S"},"x":{"datum":0.745,"type":"quantitative","scale":{"domain":[0,1]}},"y":{"datum":0.505,"type":"quantitative","scale":{"domain":[0,1],"reverse":true}}}},
{"mark":{"type":"text","style":"arr","color":"#000000","text":"↑"},"encoding":{"x":{"datum":0.745,"type":"quantitative","scale":{"domain":[0,1]}},"y":{"datum":0.44,"type":"quantitative","scale":{"domain":[0,1],"reverse":true}}}},
{"mark":{"type":"text","style":"arr","color":"#000000","text":"↓"},"encoding":{"x":{"datum":0.745,"type":"quantitative","scale":{"domain":[0,1]}},"y":{"datum":0.575,"type":"quantitative","scale":{"domain":[0,1],"reverse":true}}}},
{"mark":{"type":"text","style":"tag","color":"#111111"},"encoding":{"text":{"field":"tag"},"x":{"datum":0.158,"type":"quantitative","scale":{"domain":[0,1]}},"y":{"datum":1.12,"type":"quantitative","scale":{"domain":[0,1],"reverse":true}}}},
{"mark":{"type":"text","style":"op","color":"#111111","text":"¬","fontSize":14},"encoding":{"x":{"datum":0.283,"type":"quantitative","scale":{"domain":[0,1]}},"y":{"datum":1.12,"type":"quantitative","scale":{"domain":[0,1],"reverse":true}}}},
{"mark":{"type":"text","style":"qi","color":"#111111","text":"Q"},"encoding":{"x":{"datum":0.331,"type":"quantitative","scale":{"domain":[0,1]}},"y":{"datum":1.12,"type":"quantitative","scale":{"domain":[0,1],"reverse":true}}}},
{"mark":{"type":"text","style":"sub","color":"#111111","text":"LMN"},"encoding":{"x":{"datum":0.401,"type":"quantitative","scale":{"domain":[0,1]}},"y":{"datum":1.14,"type":"quantitative","scale":{"domain":[0,1],"reverse":true}}}},
{"mark":{"type":"text","style":"acc","color":"#111111"},"encoding":{"text":{"field":"A"},"x":{"datum":0.568,"type":"quantitative","scale":{"domain":[0,1]}},"y":{"datum":1.12,"type":"quantitative","scale":{"domain":[0,1],"reverse":true}}}}
]}
]},
{"width":278,"height":243,"resolve":{"scale":{"x":"independent","y":"independent"}},"layer":[
{"data":{"name":"cells"},"transform":[{"filter":"datum.panel==='i'"}],
"encoding":{"x":{"field":"actual","type":"nominal","scale":{"type":"point","domain":["valid","invalid"],"padding":0.52},"axis":null},"y":{"field":"predicted","type":"nominal","scale":{"type":"point","domain":["valid","invalid"],"padding":0.45,"align":0.54},"axis":null}},
"layer":[
{"mark":{"type":"circle","opacity":1,"fill":{"gradient":"radial","x1":0.55,"y1":0.33,"r1":0,"x2":0.5,"y2":0.5,"r2":0.5,"stops":[{"offset":0,"color":"#ffffff"},{"offset":0.55,"color":"#e0e0e0"},{"offset":1,"color":"#ababab"}]}},"encoding":{"size":{"field":"count","type":"quantitative","scale":{"type":"pow","exponent":0.6667,"domain":[0,15816],"range":[0,8000]},"legend":null}}},
{"mark":{"type":"text","style":"num","color":"#111111"},"encoding":{"text":{"field":"count","type":"nominal"}}}
]},
{"data":{"name":"panels"},"transform":[{"filter":"datum.panel==='i'"}],"layer":[
{"mark":{"type":"rule","color":"#aaaaaa","strokeWidth":1},"encoding":{"x":{"datum":0.5,"type":"quantitative","scale":{"domain":[0,1]}},"y":{"datum":0.04,"type":"quantitative","scale":{"domain":[0,1],"reverse":true}},"y2":{"datum":0.225}}},
{"mark":{"type":"rule","color":"#aaaaaa","strokeWidth":1},"encoding":{"x":{"datum":0.5,"type":"quantitative","scale":{"domain":[0,1]}},"y":{"datum":0.28,"type":"quantitative","scale":{"domain":[0,1],"reverse":true}},"y2":{"datum":0.995}}},
{"mark":{"type":"rule","color":"#aaaaaa","strokeWidth":1},"encoding":{"x":{"datum":0.015,"type":"quantitative","scale":{"domain":[0,1]}},"x2":{"datum":0.61},"y":{"datum":0.505,"type":"quantitative","scale":{"domain":[0,1],"reverse":true}}}},
{"mark":{"type":"rule","color":"#aaaaaa","strokeWidth":1},"encoding":{"x":{"datum":0.895,"type":"quantitative","scale":{"domain":[0,1]}},"x2":{"datum":0.98},"y":{"datum":0.505,"type":"quantitative","scale":{"domain":[0,1],"reverse":true}}}},
{"mark":{"type":"text","style":"pl","color":"#000000"},"encoding":{"text":{"field":"P"},"x":{"datum":0.5,"type":"quantitative","scale":{"domain":[0,1]}},"y":{"datum":0.255,"type":"quantitative","scale":{"domain":[0,1],"reverse":true}}}},
{"mark":{"type":"text","style":"arr","color":"#000000","text":"←"},"encoding":{"x":{"datum":0.388,"type":"quantitative","scale":{"domain":[0,1]}},"y":{"datum":0.255,"type":"quantitative","scale":{"domain":[0,1],"reverse":true}}}},
{"mark":{"type":"text","style":"arr","color":"#000000","text":"→"},"encoding":{"x":{"datum":0.612,"type":"quantitative","scale":{"domain":[0,1]}},"y":{"datum":0.255,"type":"quantitative","scale":{"domain":[0,1],"reverse":true}}}},
{"mark":{"type":"text","style":"pl","color":"#000000"},"encoding":{"text":{"field":"S"},"x":{"datum":0.745,"type":"quantitative","scale":{"domain":[0,1]}},"y":{"datum":0.505,"type":"quantitative","scale":{"domain":[0,1],"reverse":true}}}},
{"mark":{"type":"text","style":"arr","color":"#000000","text":"↑"},"encoding":{"x":{"datum":0.745,"type":"quantitative","scale":{"domain":[0,1]}},"y":{"datum":0.44,"type":"quantitative","scale":{"domain":[0,1],"reverse":true}}}},
{"mark":{"type":"text","style":"arr","color":"#000000","text":"↓"},"encoding":{"x":{"datum":0.745,"type":"quantitative","scale":{"domain":[0,1]}},"y":{"datum":0.575,"type":"quantitative","scale":{"domain":[0,1],"reverse":true}}}},
{"mark":{"type":"text","style":"tag","color":"#111111"},"encoding":{"text":{"field":"tag"},"x":{"datum":-0.004,"type":"quantitative","scale":{"domain":[0,1]}},"y":{"datum":1.12,"type":"quantitative","scale":{"domain":[0,1],"reverse":true}}}},
{"mark":{"type":"text","style":"qi","color":"#111111","text":"Q"},"encoding":{"x":{"datum":0.115,"type":"quantitative","scale":{"domain":[0,1]}},"y":{"datum":1.12,"type":"quantitative","scale":{"domain":[0,1],"reverse":true}}}},
{"mark":{"type":"text","style":"sub","color":"#111111","text":"BOX"},"encoding":{"x":{"datum":0.186,"type":"quantitative","scale":{"domain":[0,1]}},"y":{"datum":1.14,"type":"quantitative","scale":{"domain":[0,1],"reverse":true}}}},
{"mark":{"type":"text","style":"op","color":"#111111","text":"∧","fontSize":15},"encoding":{"x":{"datum":0.342,"type":"quantitative","scale":{"domain":[0,1]}},"y":{"datum":1.12,"type":"quantitative","scale":{"domain":[0,1],"reverse":true}}}},
{"mark":{"type":"text","style":"op","color":"#111111","text":"¬","fontSize":14},"encoding":{"x":{"datum":0.40,"type":"quantitative","scale":{"domain":[0,1]}},"y":{"datum":1.12,"type":"quantitative","scale":{"domain":[0,1],"reverse":true}}}},
{"mark":{"type":"text","style":"qi","color":"#111111","text":"Q"},"encoding":{"x":{"datum":0.45,"type":"quantitative","scale":{"domain":[0,1]}},"y":{"datum":1.12,"type":"quantitative","scale":{"domain":[0,1],"reverse":true}}}},
{"mark":{"type":"text","style":"sub","color":"#111111","text":"LMN"},"encoding":{"x":{"datum":0.522,"type":"quantitative","scale":{"domain":[0,1]}},"y":{"datum":1.14,"type":"quantitative","scale":{"domain":[0,1],"reverse":true}}}},
{"mark":{"type":"text","style":"acc","color":"#111111"},"encoding":{"text":{"field":"A"},"x":{"datum":0.745,"type":"quantitative","scale":{"domain":[0,1]}},"y":{"datum":1.12,"type":"quantitative","scale":{"domain":[0,1],"reverse":true}}}}
]}
]}
],
"config":{
"view":{"stroke":"#999999","strokeWidth":1.3},
"axis":{"disable":true},
"legend":{"disable":true},
"style":{
"pl":{"font":"Liberation Sans","fontWeight":"bold","fontSize":11.5},
"arr":{"font":"DejaVu Sans","fontSize":14},
"num":{"font":"Liberation Sans","fontSize":11},
"tag":{"font":"Liberation Serif","fontSize":22,"align":"left","baseline":"alphabetic"},
"qi":{"font":"Liberation Serif","fontStyle":"italic","fontSize":23,"align":"left","baseline":"alphabetic"},
"sub":{"font":"Liberation Serif","fontSize":17,"align":"left","baseline":"alphabetic"},
"op":{"font":"DejaVu Sans","fontSize":15,"align":"left","baseline":"alphabetic"},
"acc":{"font":"Liberation Sans","fontWeight":"bold","fontSize":20,"align":"left","baseline":"alphabetic"},
"gl":{"font":"Liberation Sans","fontWeight":"bold","fontSize":11},
"corner":{"font":"Liberation Sans","fontWeight":"bold","fontSize":8},
"warn":{"font":"Liberation Sans","fontSize":12,"angle":270}
}
}
}
